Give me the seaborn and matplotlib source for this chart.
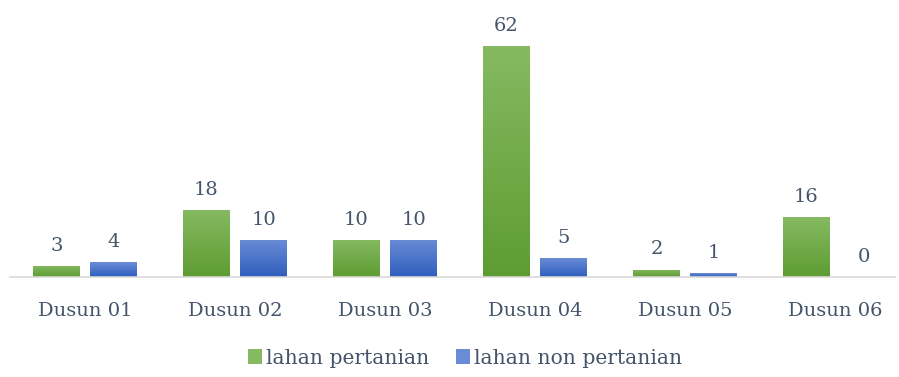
import numpy as np
import pandas as pd
import matplotlib
matplotlib.use("Agg")
import matplotlib.pyplot as plt
import seaborn as sns
from matplotlib.colors import LinearSegmentedColormap
from matplotlib.patches import Rectangle

categories = ["Dusun 01", "Dusun 02", "Dusun 03", "Dusun 04", "Dusun 05", "Dusun 06"]
pertanian = [3, 18, 10, 62, 2, 16]
non_pertanian = [4, 10, 10, 5, 1, 0]
series_names = ["lahan pertanian", "lahan non pertanian"]

df = pd.DataFrame({
    "dusun": categories * 2,
    "jumlah": pertanian + non_pertanian,
    "jenis": [series_names[0]] * len(categories) + [series_names[1]] * len(categories),
})

text_color = "#44546A"
green_top, green_bot = "#86BA62", "#5E9C32"
blue_top, blue_bot = "#6A8CD6", "#2E5EBE"

sns.set_theme(style="white")
plt.rcParams["font.family"] = ["DejaVu Serif"]

fig = plt.figure(figsize=(8.99, 3.77), dpi=100)
ax = fig.add_axes([10 / 899, 100 / 377, 900 / 899, 261 / 377])

sns.barplot(data=df, x="dusun", y="jumlah", hue="jenis",
            palette=[green_bot, blue_bot], width=0.76, gap=0.19,
            ax=ax, legend=False, saturation=1)

n = len(categories)
for i, patch in enumerate(ax.patches[: 2 * n]):
    is_green = i < n
    top, bot = (green_top, green_bot) if is_green else (blue_top, blue_bot)
    cmap = LinearSegmentedColormap.from_list("g", [bot, top])
    x0, y0 = patch.get_x(), patch.get_y()
    w, h = patch.get_width(), patch.get_height()
    val = pertanian[i] if is_green else non_pertanian[i - n]
    ax.annotate(f"{val}", (x0 + w / 2, y0 + h), xytext=(0, 8),
                textcoords="offset points", ha="center", va="bottom",
                fontsize=14, color=text_color)
    if h <= 0:
        continue
    # vertical gradient fill clipped to the bar
    grad = np.linspace(0, 1, 256).reshape(-1, 1)
    im = ax.imshow(grad, cmap=cmap, origin="lower", aspect="auto",
                   extent=[x0, x0 + w, y0, y0 + h], zorder=2)
    im.set_clip_path(patch)
    patch.set_facecolor("none")
    patch.set_edgecolor("none")

ax.set_xlim(-0.5, 5.5)
ax.set_ylim(0, 70)

for s in ["top", "right", "left"]:
    ax.spines[s].set_visible(False)
ax.spines["bottom"].set_color("#D9D9D9")
ax.spines["bottom"].set_linewidth(1.2)
ax.spines["bottom"].set_bounds(-0.5, 5.4)
ax.set_yticks([])
ax.set_xlabel("")
ax.set_ylabel("")
ax.tick_params(axis="x", length=0, pad=18, labelsize=14, labelcolor=text_color)

handles = [Rectangle((0, 0), 1, 1, facecolor=green_top, edgecolor="none"),
           Rectangle((0, 0), 1, 1, facecolor=blue_top, edgecolor="none")]
fig.legend(handles, series_names, loc="center", bbox_to_anchor=(465 / 899, 1 - 358 / 377),
           ncol=2, frameon=False, fontsize=14.6, labelcolor=text_color,
           handlelength=0.7, handleheight=0.7, handletextpad=0.2, columnspacing=1.3)

fig.savefig("out.png", dpi=100)
